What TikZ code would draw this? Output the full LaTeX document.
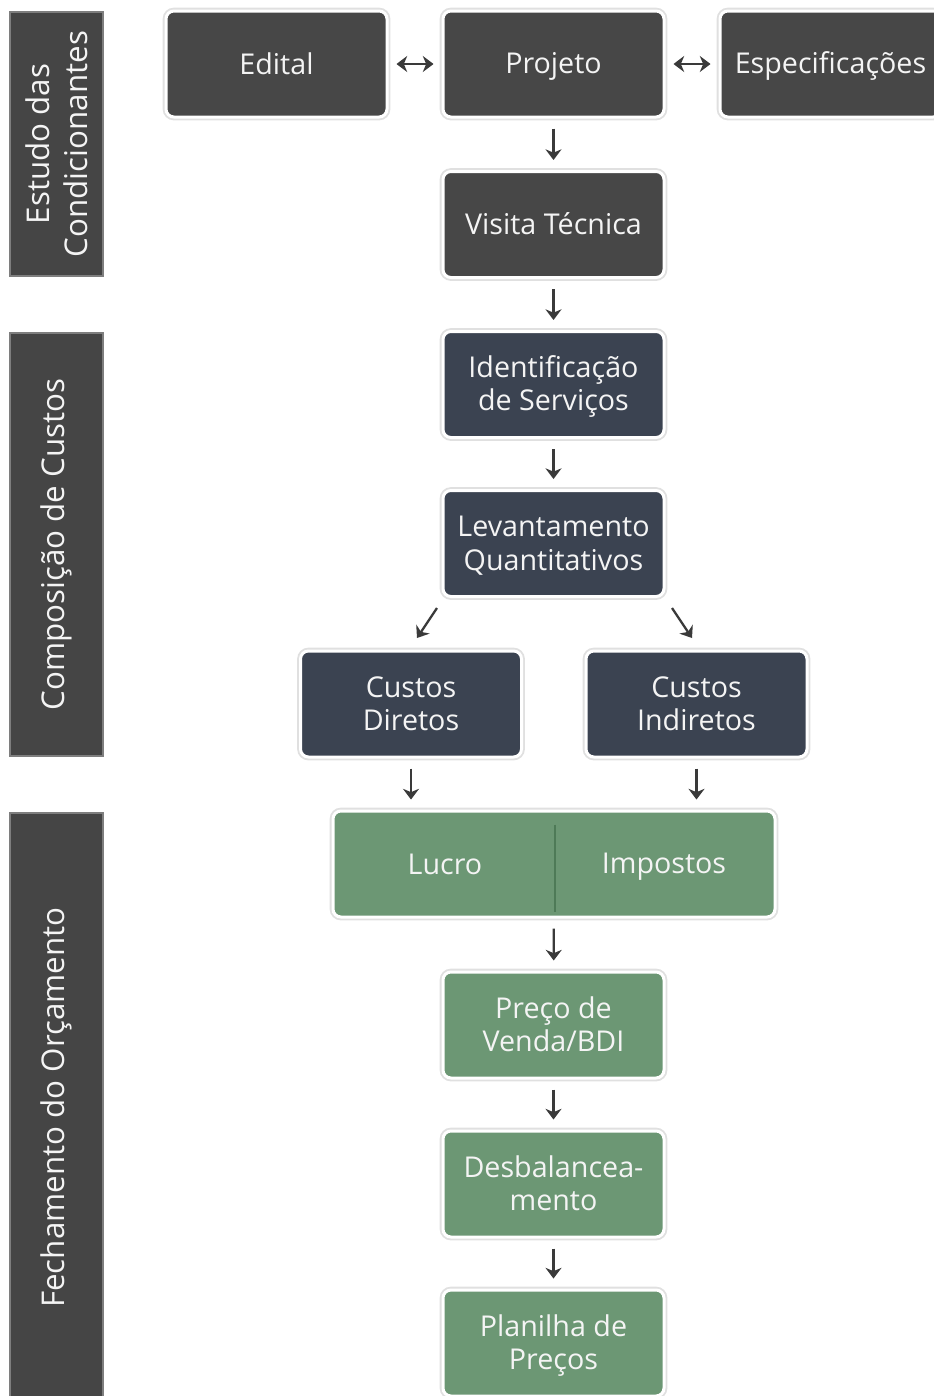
\documentclass[tikz,border=0pt]{standalone}
\usepackage{fontspec}
\setmainfont{Open Sans}
\usetikzlibrary{arrows.meta,calc}
\definecolor{darkbox}{HTML}{474747}
\definecolor{navybox}{HTML}{3B4351}
\definecolor{greenbox}{HTML}{6C9774}
\definecolor{barfill}{HTML}{454545}
\definecolor{barline}{HTML}{7E7E7E}
\definecolor{arrowc}{HTML}{3A3A3A}
\definecolor{divline}{HTML}{4E7A57}
\definecolor{txtc}{HTML}{F4F4F4}
\newcommand{\lst}{\rule[-4.8pt]{0pt}{24.6pt}}
\begin{document}
\begin{tikzpicture}[x=0.75pt,y=-0.75pt,
  box/.style={rounded corners=6pt, draw=white, line width=2.25pt, text=txtc,
    minimum width=165.75pt, minimum height=79.5pt, align=center, inner sep=0pt,
    font=\fontsize{21.5}{25}\selectfont,
    preaction={draw=black!12, line width=5pt}},
  darkb/.style={box, fill=darkbox},
  navyb/.style={box, fill=navybox},
  greenb/.style={box, fill=greenbox},
  sidebar/.style={rotate=90, fill=barfill, draw=barline, line width=1.5pt,
    text=txtc, minimum height=69.75pt, align=center, inner sep=0pt,
    font=\fontsize{23.5}{28.5}\selectfont},
  sublabel/.style={text=txtc, font=\fontsize{21.5}{25}\selectfont, inner sep=0pt},
  arr/.style={draw=arrowc, line width=1.7pt, -{Stealth[length=8pt,width=12pt,inset=2.5pt]},
    shorten <=7.5pt, shorten >=7.5pt},
  darr/.style={draw=arrowc, line width=1.7pt, {Stealth[length=8pt,width=12pt,inset=2.5pt]}-{Stealth[length=8pt,width=12pt,inset=2.5pt]},
    shorten <=6pt, shorten >=6pt},
  diag/.style={draw=arrowc, line width=1.7pt, -{Stealth[length=8pt,width=12pt,inset=2.5pt]}}
]
\useasboundingbox (0,0) rectangle (934,1396);
\fill[white] (0,0) rectangle (934,1396);

% side bars
\node[sidebar, minimum width=198pt] (bar1) at (56.5,144) {Estudo das\\Condicionantes};
\node[sidebar, minimum width=317.25pt] (bar2) at (56.5,544.5) {Composição de Custos};
\node[sidebar, minimum width=441.75pt] (bar3) at (56.5,1107.5) {Fechamento do Orçamento};

% boxes
\node[darkb] (edital) at (276.5,64) {Edital\lst};
\node[darkb] (proj) at (553.5,64) {Projeto\lst};
\node[darkb] (espec) at (830.5,64) {Especificações\lst};
\node[darkb] (vis) at (553.5,224.5) {Visita Técnica\lst};
\node[navyb] (ident) at (553.5,384.5) {Identificação\lst\\de Serviços\lst};
\node[navyb] (lev) at (553.5,543.5) {Levantamento\lst\\Quantitativos\lst};
\node[navyb] (cd) at (411,704) {Custos\lst\\Diretos\lst};
\node[navyb] (ci) at (696.5,704) {Custos\lst\\Indiretos\lst};
\node[greenb, minimum width=331.5pt] (li) at (554,864) {};
\draw[divline, line width=0.9pt] ($(li.north)+(1,15)$) coordinate (dv1) -- ($(li.south)+(1,-7)$) coordinate (dv2);
\node[sublabel] (lucro) at (445,864) {Lucro\lst};
\node[sublabel] (imp) at (664,864) {Impostos\lst};
\node[greenb] (preco) at (553.5,1025) {Preço de\lst\\Venda/BDI\lst};
\node[greenb] (desb) at (553.5,1184) {Desbalancea-\lst\\mento\lst};
\node[greenb] (plan) at (553.5,1343) {Planilha de\lst\\Preços\lst};

% arrows
\draw[darr] (edital) -- (proj);
\draw[darr] (proj) -- (espec);
\draw[arr] (proj) -- (vis);
\draw[arr] (vis) -- (ident);
\draw[arr] (ident) -- (lev);
\coordinate (l1) at ($(lev.south)+(-116.5,10)$);
\coordinate (l2) at ($(lev.south)+(-136.5,40)$);
\coordinate (r1) at ($(lev.south)+(118.5,10)$);
\coordinate (r2) at ($(lev.south)+(138.5,40)$);
\draw[diag] (l1) -- (l2);
\draw[diag] (r1) -- (r2);
\draw[arr] (cd.south) -- (cd.south |- li.north);
\draw[arr] (ci.south) -- (ci.south |- li.north);
\draw[arr] (li) -- (preco);
\draw[arr] (preco) -- (desb);
\draw[arr] (desb) -- (plan);
\end{tikzpicture}
\end{document}
